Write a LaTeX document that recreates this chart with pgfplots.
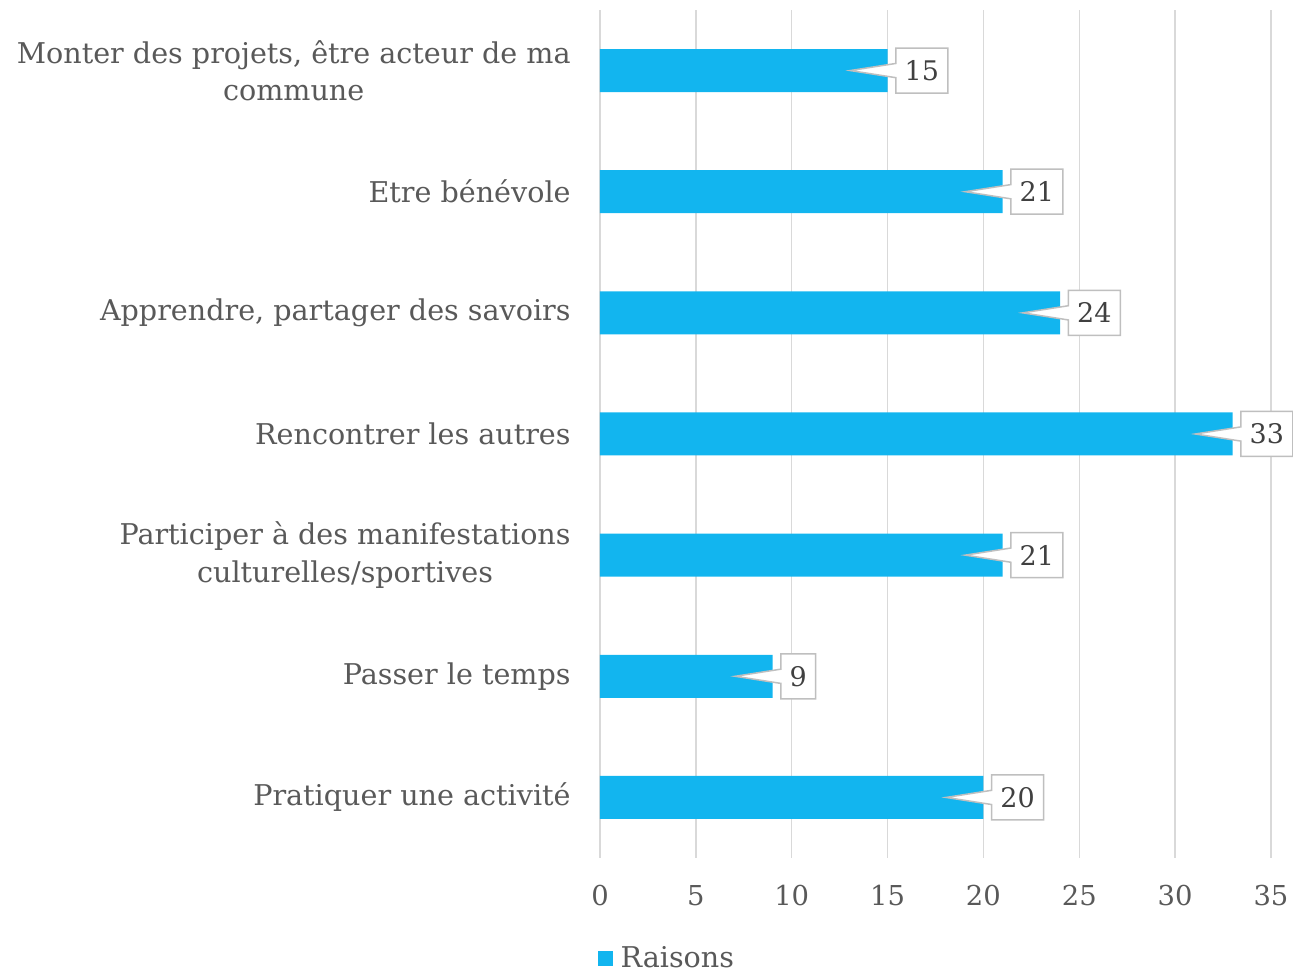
\documentclass[border=0pt]{standalone}
\usepackage{pgfplots}
\pgfplotsset{compat=1.18}
\usepackage{fontspec}
\setmainfont{DejaVu Serif}
\usetikzlibrary{shapes.callouts}
\definecolor{barblue}{RGB}{18,181,239}
\definecolor{gridgray}{RGB}{217,217,217}
\definecolor{textgray}{RGB}{89,89,89}
\definecolor{callgray}{RGB}{191,191,191}
\definecolor{calltext}{RGB}{64,64,64}
\begin{document}
\begin{tikzpicture}
\begin{axis}[
  name=ax,
  xbar, scale only axis,
  width=335.5pt, height=424pt,
  xmin=0, xmax=35, ymin=-0.5, ymax=6.5,
  xtick={0,5,...,35}, ytick={0,1,2,3,4,5,6},
  yticklabels={Pratiquer une activité,Passer le temps,{Participer à des manifestations\\culturelles/sportives},Rencontrer les autres,{Apprendre, partager des savoirs},Etre bénévole,{Monter des projets, être acteur de ma\\commune}},
  /pgf/number format/assume math mode=true,
  xmajorgrids, grid style={draw=gridgray, line width=0.75pt},
  axis line style={draw=none},
  major tick length=0pt,
  bar width=21.5pt,
  clip=false,
  yticklabel style={align=center, font=\fontsize{14.3}{18.7}\selectfont, text=textgray, inner sep=0pt, xshift=-14.5pt},
  xticklabel style={font=\fontsize{13.7}{16}\selectfont, text=textgray, inner sep=0pt, anchor=north, yshift=-13.5pt},
  nodes near coords,
  nodes near coords align={horizontal},
  every node near coord/.append style={rectangle callout, draw=callgray, fill=white, line width=0.75pt,
     anchor=west, xshift=3.75pt, minimum height=22.5pt, inner ysep=0pt, inner xsep=4.4pt,
     font=\fontsize{13.5}{16}\selectfont, text=calltext, callout relative pointer={(-22.75pt,0pt)}},
  legend style={at={(axis description cs:-0.004,-0.118)}, anchor=west, draw=none, fill=none, inner sep=0pt,
     font=\fontsize{14.3}{16}\selectfont, text=textgray},
  legend image code/.code={\fill[barblue] (0pt,-3.75pt) rectangle (7.5pt,3.75pt); \path (9.5pt,0pt);},
]
\addplot[fill=barblue, draw=none] coordinates {(20,0) (9,1) (21,2) (33,3) (24,4) (21,5) (15,6)};
\addlegendentry{Raisons}
\end{axis}
\pgfresetboundingbox
\path ([shift={(-300pt,-57pt)}]ax.south west) rectangle ([shift={(11pt,5pt)}]ax.north east);
\end{tikzpicture}
\end{document}
